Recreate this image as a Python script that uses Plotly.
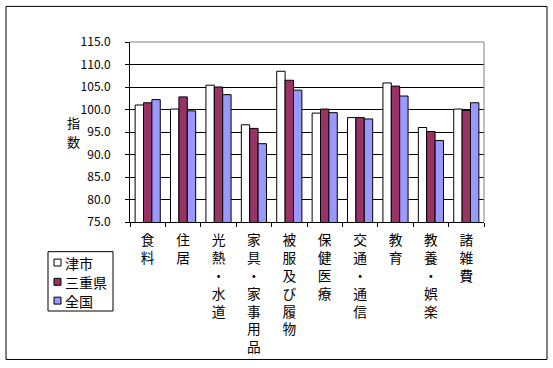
import plotly.graph_objects as go

categories = ["食料", "住居", "光熱・水道", "家具・家事用品", "被服及び履物",
              "保健医療", "交通・通信", "教育", "教養・娯楽", "諸雑費"]
series_names = ["津市", "三重県", "全国"]
tsu = [101.0, 100.1, 105.4, 96.6, 108.5, 99.2, 98.2, 105.9, 96.0, 100.1]
mie = [101.5, 102.8, 105.0, 95.8, 106.5, 100.1, 98.2, 105.2, 95.1, 99.8]
zenkoku = [102.2, 99.7, 103.3, 92.4, 104.3, 99.3, 97.9, 103.0, 93.1, 101.5]
y_ticks = [75, 80, 85, 90, 95, 100, 105, 110, 115]
y_ticktext = [f"{v:.1f}" for v in y_ticks]
y_title = "指数"
colors = ["#FFFFFF", "#993366", "#9999FF"]

FONT = "Noto Sans CJK JP"

fig = go.Figure()
for name, vals, col in zip(series_names, [tsu, mie, zenkoku], colors):
    fig.add_trace(go.Bar(x=categories, y=vals, name=name, showlegend=False,
                         marker=dict(color=col, line=dict(color="black", width=1))))

W, H = 553, 368
L, R, T, B = 130, 484, 42, 224
pw, ph = R - L, B - T

def px_x(x):
    return (x - L) / pw

def px_y(y):
    return (B - y) / ph

vert = ["<br>".join(list(c)) for c in categories]

shapes = [
    dict(type="line", xref="paper", yref="paper", x0=0, x1=1, y0=1, y1=1,
         line=dict(color="#808080", width=1), layer="above"),
    dict(type="line", xref="paper", yref="paper", x0=1, x1=1, y0=0, y1=1,
         line=dict(color="#808080", width=1), layer="above"),
    dict(type="rect", xref="paper", yref="paper",
         x0=px_x(6), x1=px_x(547), y0=px_y(363), y1=px_y(6),
         line=dict(color="black", width=1), layer="above"),
    # legend box
    dict(type="rect", xref="paper", yref="paper",
         x0=px_x(48), x1=px_x(113), y0=px_y(314), y1=px_y(254),
         line=dict(color="black", width=1), fillcolor="white", layer="above"),
]
annotations = []
for ch, cy in zip(y_title, [123, 143]):
    annotations.append(dict(text=ch, xref="paper", yref="paper", x=px_x(73), y=px_y(cy),
                            xanchor="center", yanchor="middle", showarrow=False,
                            font=dict(size=13, family=FONT)))
row_y = [265, 284.5, 303.5]
for name, col, ry in zip(series_names, colors, row_y):
    shapes.append(dict(type="rect", xref="paper", yref="paper",
                       x0=px_x(54), x1=px_x(61), y0=px_y(ry + 3.5), y1=px_y(ry - 3.5),
                       line=dict(color="black", width=1), fillcolor=col, layer="above"))
    annotations.append(dict(text=name, xref="paper", yref="paper",
                            x=px_x(63), y=px_y(ry), xanchor="left", yanchor="middle",
                            showarrow=False, font=dict(size=14, family=FONT)))

fig.update_layout(
    width=W, height=H,
    margin=dict(l=L, r=W - R, t=T, b=H - B),
    paper_bgcolor="white", plot_bgcolor="white",
    font=dict(family=FONT, color="black", size=12),
    barmode="group", bargap=0.29, bargroupgap=0,
    showlegend=False,
    xaxis=dict(type="category", tickvals=categories, ticktext=vert,
               showline=True, linecolor="black", linewidth=1,
               ticks="outside", tickson="boundaries", ticklen=4, tickcolor="black",
               tickfont=dict(size=13.7, family=FONT), showgrid=False,
               ticklabelstandoff=6),
    yaxis=dict(range=[75, 115], tickvals=y_ticks, ticktext=y_ticktext,
               showline=True, linecolor="black", linewidth=1,
               ticks="outside", ticklen=4, tickcolor="black",
               showgrid=True, gridcolor="black", gridwidth=1,
               tickfont=dict(size=12, family=FONT), zeroline=False,
               ticklabelstandoff=12),
    shapes=shapes,
    annotations=annotations,
)

fig.write_html("out.html", config={"displayModeBar": False},
               post_script="document.body.style.margin='0px';")
